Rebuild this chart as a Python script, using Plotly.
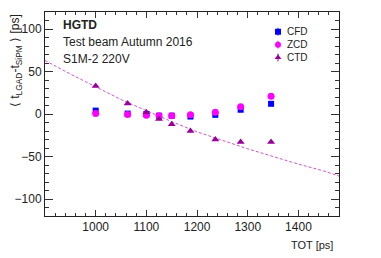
import plotly.graph_objects as go

tot = [1000, 1063, 1100, 1125, 1150, 1187, 1236, 1286, 1346]
cfd = [4, 0.5, 0, -2, -2, -3, -1, 5, 12]
zcd = [0.5, -0.5, -1.5, -2, -2, -1, 2, 8.5, 21]
ctd = [33, 12.5, 2, -6, -12, -20, -30, -33, -33]
err = [1.2, 1.2, 1.2, 1.2, 1.2, 1.2, 1.2, 1.2, 1.2]

fit_x = [900, 950, 1000, 1050, 1100, 1150, 1200, 1250, 1300, 1350, 1400, 1450, 1480]
fit_y = [63, 47, 32, 17, 4, -9, -21, -31, -41, -50, -59, -67, -73]

x_ticks = [1000, 1100, 1200, 1300, 1400]
y_ticks = [-100, -50, 0, 50, 100]

series_names = ["CFD", "ZCD", "CTD"]
series_colors = ["#0000ff", "#ff00ff", "#990099"]
series_symbols = ["square", "circle", "triangle-up"]
series_sizes = [6, 7, 7]

FONT = "Liberation Sans, Arial, sans-serif"

fig = go.Figure()
fig.add_trace(go.Scatter(x=fit_x, y=fit_y, mode="lines",
                         line=dict(color="#cc55cc", width=1, dash="3px,2px"),
                         showlegend=False, hoverinfo="skip"))
for name, vals, col, sym, sz in zip(series_names, [cfd, zcd, ctd], series_colors, series_symbols, series_sizes):
    fig.add_trace(go.Scatter(x=tot, y=vals, mode="markers", name=name, showlegend=False,
                             marker=dict(symbol=sym, size=sz, color=col),
                             error_y=dict(type="data", array=err, color=col, thickness=1, width=0)))

# manual legend (ROOT-style compact legend) on its own small subplot
leg_x = [0.5, 0.5, 0.5]
leg_y = [2.5, 1.5, 0.5]
for i, (name, col, sym) in enumerate(zip(series_names, series_colors, series_symbols)):
    fig.add_trace(go.Scatter(x=[leg_x[i]], y=[leg_y[i]], mode="markers", xaxis="x2", yaxis="y2",
                             showlegend=False, hoverinfo="skip",
                             marker=dict(symbol=sym, size=6, color=col),
                             error_y=dict(type="constant", value=0.3, color=col, thickness=1, width=0)))

axis_common = dict(showgrid=False, zeroline=False, showline=True, linecolor="#222222", linewidth=1,
                   mirror="ticks", ticks="inside", tickcolor="#333333",
                   tickfont=dict(family=FONT, size=12, color="#222"))

fig.update_layout(
    xaxis=dict(range=[900, 1480], tickvals=x_ticks, ticklen=6,
               minor=dict(dtick=20, tick0=900, ticks="inside", ticklen=3, tickcolor="#333333"), **axis_common),
    yaxis=dict(range=[-120, 120], tickvals=y_ticks, ticklen=8,
               minor=dict(dtick=10, tick0=0, ticks="inside", ticklen=4, tickcolor="#333333"), **axis_common),
    xaxis2=dict(domain=[0.78, 0.805], anchor="y2", range=[0, 1], visible=False, fixedrange=True),
    yaxis2=dict(domain=[0.745, 0.935], anchor="x2", range=[0, 3], visible=False, fixedrange=True),
)

legend_ann = []
for i, name in enumerate(series_names):
    legend_ann.append(dict(text=name, xref="paper", yref="paper", x=0.818, y=0.903 - i * 0.062,
                           xanchor="left", yanchor="middle", showarrow=False,
                           font=dict(size=10, family=FONT, color="#222")))

fig.update_layout(
    width=373, height=250,
    margin=dict(l=37, r=42, t=4, b=42),
    plot_bgcolor="rgba(0,0,0,0)", paper_bgcolor="white",
    font=dict(family=FONT, size=11, color="#222"),
    showlegend=False,
    annotations=[
        dict(text="<b>HGTD</b>", xref="paper", yref="paper", x=0.054, y=0.936, xanchor="left", yanchor="middle",
             showarrow=False, font=dict(size=12, family=FONT)),
        dict(text="Test beam Autumn 2016", xref="paper", yref="paper", x=0.054, y=0.853, xanchor="left",
             yanchor="middle", showarrow=False, font=dict(size=12, family=FONT)),
        dict(text="S1M-2 220V", xref="paper", yref="paper", x=0.054, y=0.770, xanchor="left", yanchor="middle",
             showarrow=False, font=dict(size=12, family=FONT)),
        dict(text="TOT [ps]", xref="paper", yref="paper", x=0.986, y=-0.142, xanchor="right", yanchor="middle",
             showarrow=False, font=dict(size=11, family=FONT)),
        dict(text="⟨ t<sub>LGAD</sub>-t<sub>SiPM</sub> ⟩ [ps]", xref="paper", yref="paper", x=-0.1, y=1.0,
             xanchor="center", yanchor="top", textangle=-90, showarrow=False, font=dict(size=12, family=FONT)),
    ] + legend_ann,
)

fig.write_html("out.html")
